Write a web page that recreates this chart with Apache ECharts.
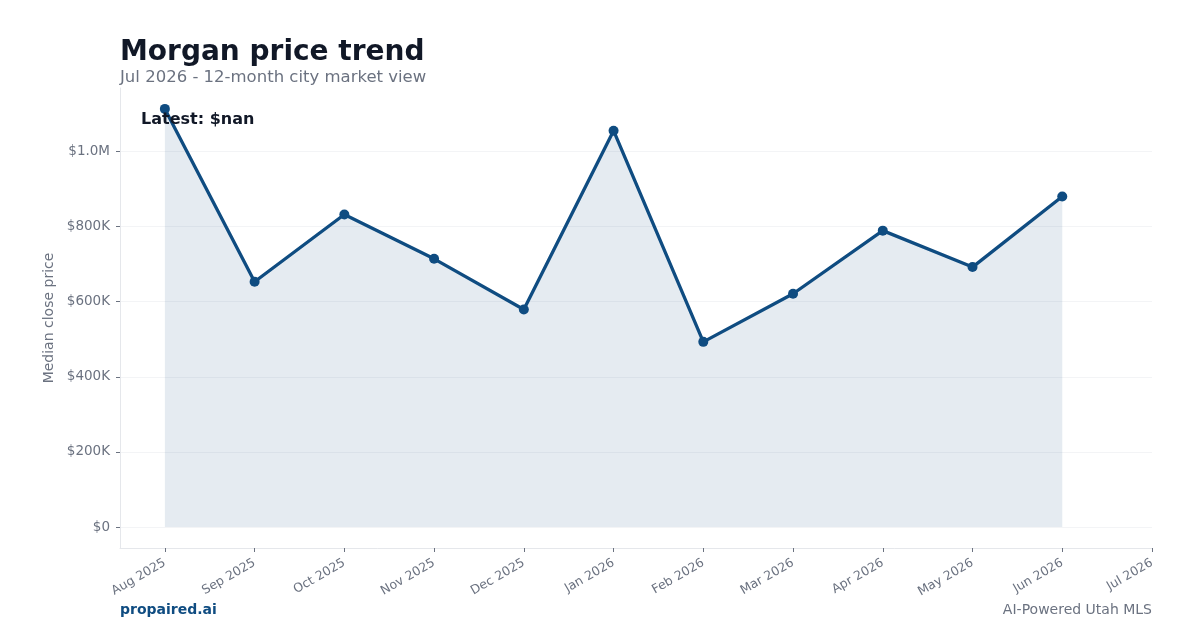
<!DOCTYPE html>
<html><head><meta charset="utf-8">
<script src="https://cdn.jsdelivr.net/npm/echarts@6/dist/echarts.min.js"></script>
<style>html,body{margin:0;padding:0;background:#fff}#c{width:1200px;height:630px}</style>
</head><body><div id="c"></div>
<script>
const categories = ['Aug 2025','Sep 2025','Oct 2025','Nov 2025','Dec 2025','Jan 2026','Feb 2026','Mar 2026','Apr 2026','May 2026','Jun 2026','Jul 2026'];
const medianPrice = [1113000, 653000, 832000, 714000, 579000, 1055000, 493000, 621000, 789000, 692000, 880000, null];
const yTicks = [0, 200000, 400000, 600000, 800000, 1000000];
const yTickLabels = ['$0','$200K','$400K','$600K','$800K','$1.0M'];

const FONT = 'DejaVu Sans';
const gray = '#6b7280';
const dark = '#111827';
const blue = '#0f4c81';

const idx = categories.map((_, i) => i);
const seriesData = medianPrice.map((v, i) => v == null ? null : [i, v]).filter(d => d);
const dmax = Math.max(...medianPrice.filter(v => v != null));
const pad = dmax * 0.05;

const chart = echarts.init(document.getElementById('c'), null, {renderer: 'canvas'});
chart.setOption({
  animation: false,
  backgroundColor: '#ffffff',
  grid: {left: 120, right: 48, top: 88, bottom: 82, containLabel: false},
  xAxis: {
    type: 'value', min: -0.5, max: categories.length - 1,
    axisLine: {show: true, onZero: false, lineStyle: {color: '#e5e7eb', width: 1}},
    axisTick: {show: true, length: 4, lineStyle: {color: gray}, customValues: idx},
    axisLabel: {customValues: idx, formatter: v => categories[Math.round(v)] || '', rotate: 30, fontFamily: FONT, fontSize: 12.5, color: gray, margin: 14},
    splitLine: {show: false}
  },
  yAxis: {
    type: 'value', min: -pad, max: dmax + pad,
    name: 'Median close price', nameLocation: 'middle', nameGap: 60,
    nameTextStyle: {fontFamily: FONT, fontSize: 14, color: gray},
    axisLine: {show: true, onZero: false, lineStyle: {color: '#e5e7eb', width: 1}},
    axisTick: {show: true, length: 4, lineStyle: {color: gray}, customValues: yTicks},
    axisLabel: {customValues: yTicks, formatter: v => yTickLabels[yTicks.indexOf(Math.round(v))] || '', fontFamily: FONT, fontSize: 13.5, color: gray, margin: 10},
    splitLine: {show: true, lineStyle: {color: '#f3f4f6', width: 1}}
  },
  series: [{
    type: 'line', data: seriesData,
    symbol: 'circle', symbolSize: 10,
    lineStyle: {color: blue, width: 3.3},
    itemStyle: {color: blue},
    areaStyle: {color: 'rgba(15,76,129,0.11)', opacity: 1, origin: 0},
    z: 3
  }],
  graphic: [
    {type: 'text', left: 120, top: 39, style: {text: 'Morgan price trend', font: 'bold 28px "DejaVu Sans"', fill: dark}},
    {type: 'text', left: 120, top: 69, style: {text: 'Jul 2026 - 12-month city market view', font: '16.5px "DejaVu Sans"', fill: gray}},
    {type: 'text', left: 141, top: 112, z: 10, style: {text: 'Latest: $nan', font: 'bold 16px "DejaVu Sans"', fill: dark}},
    {type: 'text', left: 120, top: 603, style: {text: 'propaired.ai', font: 'bold 14px "DejaVu Sans"', fill: blue}},
    {type: 'text', right: 48, top: 603, style: {text: 'AI-Powered Utah MLS', font: '14px "DejaVu Sans"', fill: gray}}
  ]
});
</script></body></html>
